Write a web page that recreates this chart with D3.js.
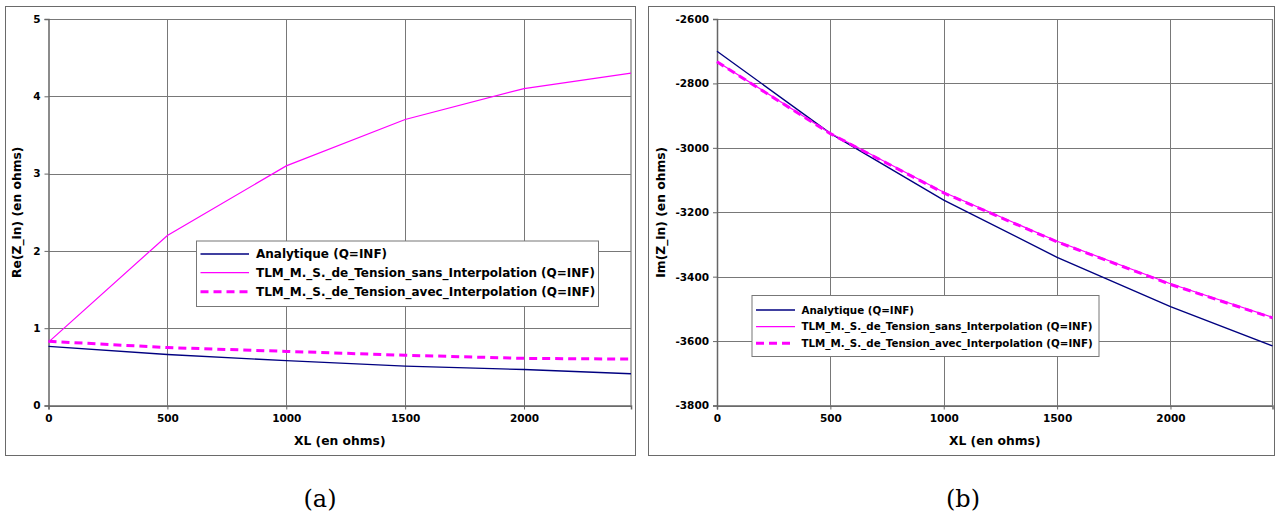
<!DOCTYPE html>
<html>
<head>
<meta charset="utf-8">
<script src="https://cdn.jsdelivr.net/npm/d3@7"></script>
<style>
  html, body { margin: 0; padding: 0; background: #fff; }
  svg { display: block; }
</style>
</head>
<body>
<svg id="chart" width="1275" height="518"></svg>
<script>
// ---------- DATA ----------
const xlValues = [0, 500, 1000, 1500, 2000, 2450];
const xTicks = [0, 500, 1000, 1500, 2000];

const reAnalytique = [0.765, 0.66, 0.58, 0.51, 0.465, 0.41];
const reSansInterp = [0.82, 2.2, 3.1, 3.7, 4.1, 4.3];
const reAvecInterp = [0.83, 0.75, 0.70, 0.65, 0.61, 0.60];
const reTicks = [0, 1, 2, 3, 4, 5];

const imAnalytique = [-2700, -2955, -3162, -3340, -3493, -3615];
const imSansInterp = [-2732, -2955, -3138, -3290, -3422, -3526];
const imAvecInterp = [-2733, -2956, -3140, -3292, -3424, -3528];
const imTicks = [-3800, -3600, -3400, -3200, -3000, -2800, -2600];

const seriesNames = [
  "Analytique (Q=INF)",
  "TLM_M._S._de_Tension_sans_Interpolation (Q=INF)",
  "TLM_M._S._de_Tension_avec_Interpolation (Q=INF)"
];
const xTitle = "XL (en ohms)";
const yTitles = ["Re(Z_in) (en ohms)", "Im(Z_in) (en ohms)"];
const captions = ["(a)", "(b)"];

// ---------- STYLES ----------
const SANS = "'DejaVu Sans', sans-serif";
const SERIF = "'DejaVu Serif', serif";
const styles = [
  { color: "#000080", width: 1.4, dash: null },
  { color: "#ff00ff", width: 1.2, dash: null },
  { color: "#ff00ff", width: 3, dash: "8,5" }
];

const svg = d3.select("#chart");

const panels = [
  {
    frame: { x: 5, y: 6, w: 630, h: 449 },
    plot: { l: 48.5, t: 19, r: 631, b: 405.5 },
    yDomain: [0, 5], yTicks: reTicks,
    series: [reAnalytique, reSansInterp, reAvecInterp],
    yTitle: yTitles[0], yTitleX: 17,
    legend: { x: 196, y: 240.5, w: 402, h: 65.5, font: 12, rows: [254, 272.7, 291.7], s0: 200.5, s1: 249, tx: 256 },
    caption: captions[0], capX: 320
  },
  {
    frame: { x: 648, y: 6, w: 626, h: 449 },
    plot: { l: 717, t: 19, r: 1272.5, b: 405.5 },
    yDomain: [-3800, -2600], yTicks: imTicks,
    series: [imAnalytique, imSansInterp, imAvecInterp],
    yTitle: yTitles[1], yTitleX: 661,
    legend: { x: 751.5, y: 295, w: 347, h: 61, font: 10.3, rows: [310, 326.7, 343.3], s0: 756, s1: 795, tx: 801.5 },
    caption: captions[1], capX: 963
  }
];

panels.forEach(p => {
  const g = svg.append("g");
  // outer frame
  g.append("rect")
    .attr("x", p.frame.x + 0.5).attr("y", p.frame.y + 0.5)
    .attr("width", p.frame.w).attr("height", p.frame.h)
    .attr("fill", "#fff").attr("stroke", "#6a6a6a").attr("stroke-width", 1);

  const x = d3.scaleLinear().domain([0, 2450]).range([p.plot.l, p.plot.r]);
  const y = d3.scaleLinear().domain(p.yDomain).range([p.plot.b, p.plot.t]);

  // grid
  g.append("g").selectAll("line").data(p.yTicks).join("line")
    .attr("x1", p.plot.l).attr("x2", p.plot.r)
    .attr("y1", d => Math.round(y(d)) + 0.5).attr("y2", d => Math.round(y(d)) + 0.5)
    .attr("stroke", "#787878").attr("stroke-width", 1);
  g.append("g").selectAll("line").data(xTicks.slice(1)).join("line")
    .attr("x1", d => Math.round(x(d)) + 0.5).attr("x2", d => Math.round(x(d)) + 0.5)
    .attr("y1", p.plot.t).attr("y2", p.plot.b)
    .attr("stroke", "#787878").attr("stroke-width", 1);
  // right border
  g.append("line")
    .attr("x1", p.plot.r).attr("x2", p.plot.r)
    .attr("y1", p.plot.t).attr("y2", p.plot.b)
    .attr("stroke", "#787878").attr("stroke-width", 1.2);

  // axes
  const yAxis = d3.axisLeft(y).tickValues(p.yTicks).tickSize(4).tickPadding(4)
    .tickFormat(d => String(d));
  const ya = g.append("g").attr("transform", `translate(${p.plot.l},0)`).call(yAxis);
  const xAxis = d3.axisBottom(x).tickValues(xTicks).tickSize(4).tickPadding(5)
    .tickFormat(d => String(d));
  const xa = g.append("g").attr("transform", `translate(0,${p.plot.b})`).call(xAxis);
  [ya, xa].forEach(a => {
    a.select(".domain").attr("stroke", "#666").attr("stroke-width", 1.5);
    a.selectAll(".tick line").attr("stroke", "#666");
    a.selectAll("text").attr("fill", "#000")
      .style("font-size", "10.5px").style("font-weight", "bold").style("font-family", SANS);
  });

  // lines
  const line = d3.line().x((d, i) => x(xlValues[i])).y(d => y(d));
  p.series.forEach((s, i) => {
    g.append("path").datum(s)
      .attr("d", line)
      .attr("fill", "none")
      .attr("stroke", styles[i].color)
      .attr("stroke-width", styles[i].width)
      .attr("stroke-dasharray", styles[i].dash);
  });

  // axis titles
  g.append("text")
    .attr("x", (p.plot.l + p.plot.r) / 2).attr("y", 445)
    .attr("text-anchor", "middle")
    .style("font-family", SANS).style("font-size", "12.3px").style("font-weight", "bold")
    .text(xTitle);
  g.append("text")
    .attr("transform", `translate(${p.yTitleX + 4},${(p.plot.t + p.plot.b) / 2}) rotate(-90)`)
    .attr("text-anchor", "middle")
    .style("font-family", SANS).style("font-size", "12.3px").style("font-weight", "bold")
    .text(p.yTitle);

  // legend
  const L = p.legend;
  const lg = g.append("g");
  lg.append("rect").attr("x", L.x + 0.5).attr("y", L.y + 0.5).attr("width", L.w).attr("height", L.h)
    .attr("fill", "#fff").attr("stroke", "#777").attr("stroke-width", 1);
  seriesNames.forEach((name, i) => {
    lg.append("line").attr("x1", L.s0).attr("x2", L.s1).attr("y1", L.rows[i]).attr("y2", L.rows[i])
      .attr("stroke", styles[i].color).attr("stroke-width", styles[i].width)
      .attr("stroke-dasharray", styles[i].dash);
    lg.append("text").attr("x", L.tx).attr("y", L.rows[i]).attr("dy", "0.36em")
      .style("font-family", SANS).style("font-size", L.font + "px").style("font-weight", "bold")
      .text(name);
  });

  // caption
  svg.append("text")
    .attr("x", p.capX).attr("y", 507)
    .attr("text-anchor", "middle")
    .style("font-family", SERIF).style("font-size", "24px")
    .text(p.caption);
});
</script>
</body>
</html>
